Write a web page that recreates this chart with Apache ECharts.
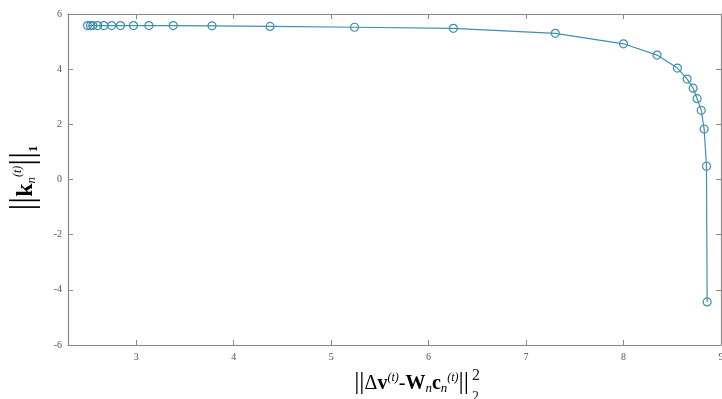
<!DOCTYPE html>
<html>
<head>
<meta charset="utf-8">
<script src="https://cdn.jsdelivr.net/npm/echarts@6/dist/echarts.min.js"></script>
<style>
  html, body { margin: 0; padding: 0; background: #fff; }
  #chart { width: 722px; height: 399px; }
</style>
</head>
<body>
<div id="chart"></div>
<script>
// Residual error (x) versus L1 norm of the coefficient vector (y)
const residual = [2.50, 2.53, 2.555, 2.605, 2.667, 2.749, 2.839, 2.972, 3.13, 3.38, 3.777, 4.373, 5.24,
                  6.254, 7.30, 8.00, 8.344, 8.553, 8.653, 8.714, 8.755, 8.797, 8.827, 8.851, 8.858];
const l1norm   = [5.58, 5.58, 5.58, 5.58, 5.58, 5.58, 5.58, 5.58, 5.58, 5.58, 5.57, 5.55, 5.52,
                  5.48, 5.30, 4.92, 4.51, 4.04, 3.64, 3.31, 2.93, 2.51, 1.83, 0.48, -4.44];
const xTicks = [3, 4, 5, 6, 7, 8, 9];
const yTicks = [-6, -4, -2, 0, 2, 4, 6];

const points = residual.map((x, i) => [x, l1norm[i]]);

const axisGray = '#8a8a8a';
const ink = '#222';
const serif = 'Liberation Serif';
const labelFont = { fontFamily: serif, fontSize: 10, color: '#555' };
const lineColor = '#3f8fae';

const chart = echarts.init(document.getElementById('chart'), null, { renderer: 'canvas' });

function boxAxis(pos, extra) {
  return Object.assign({
    type: 'value',
    position: pos,
    axisLine: { show: true, onZero: false, lineStyle: { color: axisGray, width: 1.2 } },
    axisTick: { show: true, inside: true, length: 5, lineStyle: { color: axisGray } },
    splitLine: { show: false }
  }, extra);
}

chart.setOption({
  backgroundColor: '#fff',
  animation: false,
  grid: { left: 68, right: 1, top: 14, bottom: 54, outerBoundsMode: 'none', containLabel: false },
  xAxis: [
    boxAxis('bottom', {
      min: 2.3, max: 9,
      axisTick: { show: true, inside: true, length: 5, lineStyle: { color: axisGray },
                  customValues: xTicks },
      axisLabel: Object.assign({ margin: 7, customValues: xTicks }, labelFont)
    }),
    boxAxis('top', {
      min: 2.3, max: 9,
      axisTick: { show: true, inside: true, length: 5, lineStyle: { color: axisGray },
                  customValues: xTicks },
      axisLabel: { show: false }
    })
  ],
  yAxis: [
    boxAxis('left', {
      min: -6, max: 6, interval: 2,
      axisLabel: Object.assign({ margin: 6, customValues: yTicks }, labelFont)
    }),
    boxAxis('right', {
      min: -6, max: 6, interval: 2,
      axisLabel: { show: false }
    })
  ],
  series: [{
    type: 'line',
    data: points,
    xAxisIndex: 0,
    yAxisIndex: 0,
    symbol: 'circle',
    symbolSize: 8,
    showAllSymbol: true,
    lineStyle: { color: lineColor, width: 1.2 },
    itemStyle: { color: 'rgba(255,255,255,0)', borderColor: lineColor, borderWidth: 1.2 }
  }],
  graphic: [
    // x-axis title: squared L2 norm of the residual
    {
      type: 'text',
      x: 469, y: 382,
      style: {
        text: '{bar|||}{m|Δ}{b|v}{sup|(t)}{m|-}{b|W}{sub|n}{b|c}{sub|n}{sup|(t)}{bar|||}',
        align: 'right',
        verticalAlign: 'middle',
        rich: {
          bar: { fontFamily: serif, fontSize: 26, lineHeight: 30, color: ink, verticalAlign: 'middle' },
          m: { fontFamily: serif, fontSize: 20, lineHeight: 30, color: ink, verticalAlign: 'middle', padding: [4, 0, 0, 0] },
          b: { fontFamily: serif, fontSize: 20, fontWeight: 'bold', lineHeight: 30, color: ink, verticalAlign: 'middle', padding: [4, 0, 0, 0] },
          sup: { fontFamily: serif, fontStyle: 'italic', fontSize: 12, lineHeight: 30, color: ink, verticalAlign: 'top', padding: [5, 0, 0, 0] },
          sub: { fontFamily: serif, fontStyle: 'italic', fontSize: 13, lineHeight: 30, color: ink, verticalAlign: 'bottom', padding: [0, 0, 2, 0] }
        }
      }
    },
    { type: 'text', x: 472, y: 376, style: { text: '2', fontFamily: serif, fontSize: 16, fill: ink, align: 'left', verticalAlign: 'middle' } },
    { type: 'text', x: 472, y: 397, style: { text: '2', fontFamily: serif, fontSize: 14, fill: ink, align: 'left', verticalAlign: 'middle' } },
    // y-axis title: L1 norm of the coefficient vector
    {
      type: 'text',
      x: 24, y: 178,
      rotation: Math.PI / 2,
      style: {
        text: '{bar|||}{b|k}{sub|n}{sup|(t)}{bar|||}{s1|1}',
        align: 'center',
        verticalAlign: 'middle',
        rich: {
          bar: { fontFamily: serif, fontSize: 34, lineHeight: 36, color: ink, verticalAlign: 'middle' },
          b: { fontFamily: serif, fontSize: 24, fontWeight: 'bold', lineHeight: 36, color: ink, verticalAlign: 'middle', padding: [4, 0, 0, 0] },
          sup: { fontFamily: serif, fontStyle: 'italic', fontSize: 12, lineHeight: 36, color: ink, verticalAlign: 'top', padding: [6, 0, 0, 0] },
          sub: { fontFamily: serif, fontStyle: 'italic', fontSize: 13, lineHeight: 36, color: ink, verticalAlign: 'bottom', padding: [0, 0, 4, 0] },
          s1: { fontFamily: serif, fontSize: 13, fontWeight: 'bold', lineHeight: 36, color: ink, verticalAlign: 'bottom', padding: [0, 0, 2, 0] }
        }
      }
    }
  ]
});
</script>
</body>
</html>
